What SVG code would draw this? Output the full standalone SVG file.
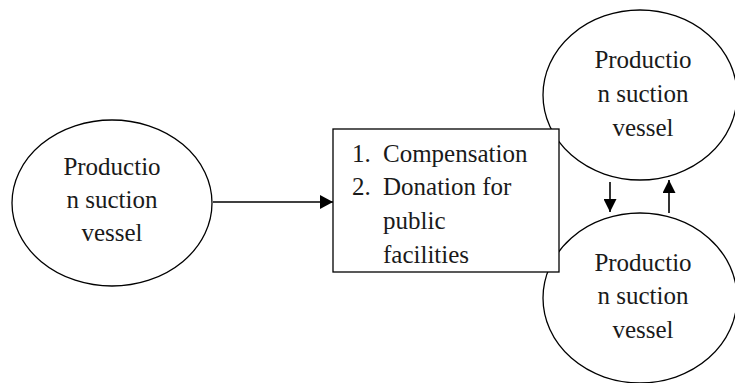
<svg xmlns="http://www.w3.org/2000/svg" width="735" height="383" viewBox="0 0 735 383">
<style>
.node{fill:#fff;stroke:#000;stroke-width:1.3}
text{font-family:'Liberation Serif','DejaVu Serif','Times New Roman',serif;font-size:25px;fill:#1a1a1a}
.c{text-anchor:middle}
.conn{stroke:#000;stroke-width:1.6;fill:none}
</style>
<defs>
<marker id="ah" viewBox="0 0 13 14" refX="13" refY="7" markerWidth="13" markerHeight="14" markerUnits="userSpaceOnUse" orient="auto">
<path d="M0,0L13,7L0,14Z" fill="#000"/>
</marker>
<marker id="ahs" viewBox="0 0 13 13" refX="13" refY="6.5" markerWidth="13" markerHeight="13" markerUnits="userSpaceOnUse" orient="auto">
<path d="M0,0L13,6.5L0,13Z" fill="#000"/>
</marker>
</defs>
<g id="vessel-left">
<ellipse class="node" cx="112" cy="203" rx="100" ry="83"/>
<text class="c" x="112" y="175">Productio</text>
<text class="c" x="112" y="208">n suction</text>
<text class="c" x="112" y="241">vessel</text>
</g>
<g id="vessel-top">
<ellipse class="node" cx="640" cy="95" rx="97" ry="85"/>
<text class="c" x="643" y="68">Productio</text>
<text class="c" x="643" y="102">n suction</text>
<text class="c" x="643" y="136">vessel</text>
</g>
<g id="vessel-bottom">
<ellipse class="node" cx="640" cy="298" rx="97" ry="85"/>
<text class="c" x="643" y="271">Productio</text>
<text class="c" x="643" y="304">n suction</text>
<text class="c" x="643" y="338">vessel</text>
</g>
<g id="measures">
<rect class="node" x="333" y="129" width="226" height="143"/>
<text x="352" y="162">1.</text>
<text x="383" y="162">Compensation</text>
<text x="352" y="195">2.</text>
<text x="383" y="195">Donation for</text>
<text x="383" y="229">public</text>
<text x="383" y="263">facilities</text>
</g>
<g id="connectors">
<line class="conn" x1="213" y1="202" x2="333" y2="202" marker-end="url(#ah)"/>
<line class="conn" x1="610" y1="182" x2="610" y2="212" marker-end="url(#ahs)"/>
<line class="conn" x1="669" y1="213" x2="669" y2="180" marker-end="url(#ahs)"/>
</g>
</svg>
